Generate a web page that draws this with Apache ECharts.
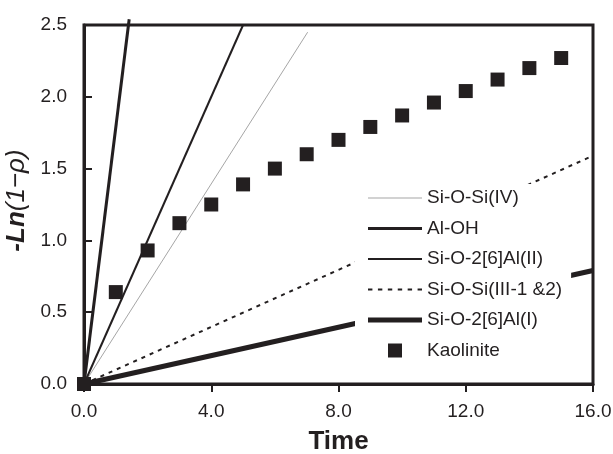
<!DOCTYPE html>
<html>
<head>
<meta charset="utf-8">
<script src="https://cdn.jsdelivr.net/npm/echarts@6/dist/echarts.min.js"></script>
<style>html,body{margin:0;padding:0;background:#fff;}#c{width:613px;height:454px;}</style>
</head>
<body>
<div id="c"></div>
<script>
// Data
const kaoliniteX = [0, 1, 2, 3, 4, 5, 6, 7, 8, 9, 10, 11, 12, 13, 14, 15];
const kaoliniteY = [0, 0.64, 0.93, 1.12, 1.25, 1.39, 1.50, 1.60, 1.70, 1.79, 1.87, 1.96, 2.04, 2.12, 2.20, 2.27];
const siOSiIV = [[0, 0], [7.03, 2.45]];
const alOH = [[0, 0], [1.42, 2.54]];
const siO26AlII = [[0, 0], [5.0, 2.5]];
const siOSiIII = [[0, 0], [16, 1.59]];
const siO26AlI = [[0, 0], [16, 0.79]];
const seriesNames = ['Si-O-Si(IV)', 'Al-OH', 'Si-O-2[6]Al(II)', 'Si-O-Si(III-1 &2)', 'Si-O-2[6]Al(I)', 'Kaolinite'];
const xTicks = [0, 4, 8, 12, 16];
const yTicks = [0, 0.5, 1, 1.5, 2, 2.5];

const ink = '#231f20';
const grey = '#a6a6a6';
const font = 'Liberation Sans, Arial, sans-serif';
const chart = echarts.init(document.getElementById('c'), null, {renderer: 'canvas'});

function lineSeries(name, data, color, width, type) {
  return {
    name: name, type: 'line', data: data, symbol: 'none', clip: false,
    lineStyle: {color: color, width: width, type: type || 'solid'},
    itemStyle: {color: color}, z: 2, animation: false
  };
}
function barIcon(w) { return 'path://M0,0H54V' + w + 'H0Z'; }
function dotIcon() {
  let p = 'path://';
  for (let i = 0; i < 6; i++) { const x = i * 9; p += 'M' + x + ',0H' + (x + 4) + 'V2H' + x + 'Z'; }
  return p;
}

chart.setOption({
  animation: false,
  backgroundColor: '#fff',
  grid: {left: 84, right: 20, top: 25, bottom: 70, containLabel: false, outerBoundsMode: 'none',
         show: true, borderColor: ink, borderWidth: 3, backgroundColor: 'transparent'},
  xAxis: {
    type: 'value', min: xTicks[0], max: xTicks[xTicks.length - 1], interval: 4,
    name: 'Time', nameLocation: 'middle', nameGap: 45,
    nameTextStyle: {fontFamily: font, fontSize: 26, fontWeight: 'bold', color: ink},
    axisLine: {show: true, lineStyle: {color: ink, width: 3}},
    axisTick: {show: true, inside: false, length: 8, lineStyle: {color: ink, width: 2}},
    axisLabel: {margin: 18, fontFamily: font, fontSize: 19, color: ink, formatter: v => v.toFixed(1)},
    splitLine: {show: false}
  },
  yAxis: {
    type: 'value', min: yTicks[0], max: yTicks[yTicks.length - 1], interval: 0.5,
    name: '{a|-Ln}{b|(1\u2212\u03c1)}', nameLocation: 'middle', nameGap: 45, nameRotate: 90,
    nameTextStyle: {
      color: ink, padding: [0, 0, 0, 8],
      rich: {
        a: {fontFamily: font, fontSize: 26, fontWeight: 'bold', fontStyle: 'italic', color: ink},
        b: {fontFamily: font, fontSize: 26, fontStyle: 'italic', color: ink}
      }
    },
    axisLine: {show: true, lineStyle: {color: ink, width: 3}},
    axisTick: {show: true, inside: true, length: 8, lineStyle: {color: ink, width: 2}},
    axisLabel: {margin: 17, fontFamily: font, fontSize: 19, color: ink, formatter: v => v.toFixed(1)},
    splitLine: {show: false}
  },
  legend: {
    orient: 'vertical', left: 355, top: 184,
    padding: [4, 9, 8, 13],
    backgroundColor: '#fff',
    itemWidth: 54, itemHeight: 14, itemGap: 10.5,
    symbolKeepAspect: true,
    data: [
      {name: seriesNames[0], icon: barIcon(1), itemStyle: {color: grey}},
      {name: seriesNames[1], icon: barIcon(3), itemStyle: {color: ink}},
      {name: seriesNames[2], icon: barIcon(2), itemStyle: {color: ink}},
      {name: seriesNames[3], icon: dotIcon(), itemStyle: {color: ink}},
      {name: seriesNames[4], icon: barIcon(5), itemStyle: {color: ink}},
      {name: seriesNames[5], icon: 'path://M0,0H14V14H0Z', itemStyle: {color: ink}}
    ],
    textStyle: {fontFamily: font, fontSize: 19, color: ink, lineHeight: 20},
    selectedMode: false
  },
  series: [
    lineSeries(seriesNames[0], siOSiIV, grey, 1),
    lineSeries(seriesNames[1], alOH, ink, 3),
    lineSeries(seriesNames[2], siO26AlII, ink, 2),
    lineSeries(seriesNames[3], siOSiIII, ink, 2, [4, 5]),
    lineSeries(seriesNames[4], siO26AlI, ink, 5),
    {
      name: seriesNames[5], type: 'scatter', symbol: 'rect', symbolSize: 14,
      data: kaoliniteX.map((x, i) => [x, kaoliniteY[i]]),
      itemStyle: {color: ink, opacity: 1}, clip: false, z: 3
    }
  ]
});
</script>
</body>
</html>
